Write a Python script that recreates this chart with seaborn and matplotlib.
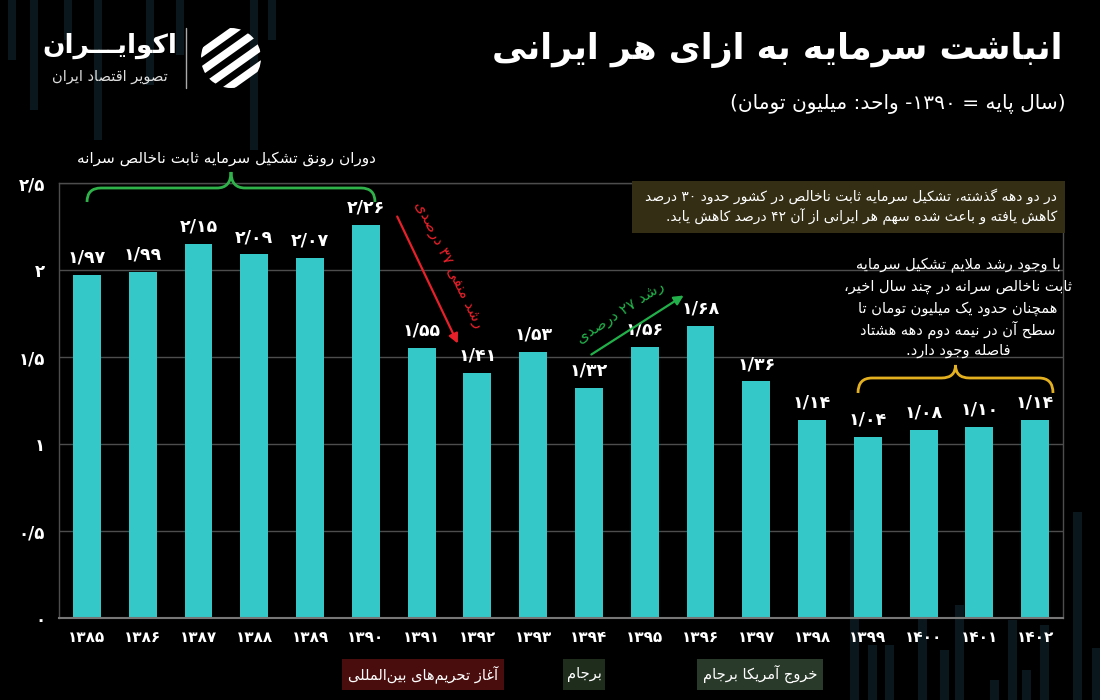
import re
import numpy as np
import pandas as pd
import matplotlib
matplotlib.use("Agg")
import matplotlib.pyplot as plt
import seaborn as sns
from matplotlib.path import Path
from matplotlib.patches import PathPatch, Rectangle, Circle

# ---------------- data ----------------
years = [1385, 1386, 1387, 1388, 1389, 1390, 1391, 1392, 1393,
         1394, 1395, 1396, 1397, 1398, 1399, 1400, 1401, 1402]
values = [1.97, 1.99, 2.15, 2.09, 2.07, 2.26, 1.55, 1.41, 1.53,
          1.32, 1.56, 1.68, 1.36, 1.14, 1.04, 1.08, 1.10, 1.14]
y_ticks = [0, 0.5, 1, 1.5, 2, 2.5]

title = "انباشت سرمایه به ازای هر ایرانی"
subtitle = "(سال پایه = ۱۳۹۰- واحد: میلیون تومان)"
brand = "اکوایـــران"
brand_sub = "تصویر اقتصاد ایران"
boom_text = "دوران رونق تشکیل سرمایه ثابت ناخالص سرانه"
down_text = "رشد منفی ۳۷ درصدی"
up_text = "رشد ۲۷ درصدی"
box_lines = ["در دو دهه گذشته، تشکیل سرمایه ثابت ناخالص در کشور حدود ۳۰ درصد",
             "کاهش یافته و باعث شده سهم هر ایرانی از آن ۴۲ درصد کاهش یابد."]
note_lines = ["با وجود رشد ملایم تشکیل سرمایه",
              "ثابت ناخالص سرانه در چند سال اخیر،",
              "همچنان حدود یک میلیون تومان تا",
              "سطح آن در نیمه دوم دهه هشتاد",
              "فاصله وجود دارد."]
events = ["آغاز تحریم‌های بین‌المللی", "برجام", "خروج آمریکا برجام"]

# ---------------- Persian shaping helpers ----------------
def _f(start, n):
    return tuple(chr(start + k) for k in range(n))

FORMS = {
    'ا': _f(0xFE8D, 2), 'آ': _f(0xFE81, 2), 'أ': _f(0xFE83, 2), 'إ': _f(0xFE87, 2),
    'ؤ': _f(0xFE85, 2), 'ئ': _f(0xFE89, 4), 'ب': _f(0xFE8F, 4), 'ة': _f(0xFE93, 2),
    'ت': _f(0xFE95, 4), 'ث': _f(0xFE99, 4), 'ج': _f(0xFE9D, 4), 'ح': _f(0xFEA1, 4),
    'خ': _f(0xFEA5, 4), 'د': _f(0xFEA9, 2), 'ذ': _f(0xFEAB, 2), 'ر': _f(0xFEAD, 2),
    'ز': _f(0xFEAF, 2), 'س': _f(0xFEB1, 4), 'ش': _f(0xFEB5, 4), 'ص': _f(0xFEB9, 4),
    'ض': _f(0xFEBD, 4), 'ط': _f(0xFEC1, 4), 'ظ': _f(0xFEC5, 4), 'ع': _f(0xFEC9, 4),
    'غ': _f(0xFECD, 4), 'ف': _f(0xFED1, 4), 'ق': _f(0xFED5, 4), 'ك': _f(0xFED9, 4),
    'ل': _f(0xFEDD, 4), 'م': _f(0xFEE1, 4), 'ن': _f(0xFEE5, 4), 'ه': _f(0xFEE9, 4),
    'و': _f(0xFEED, 2), 'ى': _f(0xFEEF, 2), 'ي': _f(0xFEF1, 4),
    'پ': _f(0xFB56, 4), 'چ': _f(0xFB7A, 4), 'ژ': _f(0xFB8A, 2), 'ک': _f(0xFB8E, 4),
    'گ': _f(0xFB92, 4), 'ی': _f(0xFBFC, 4),
}
LAMALEF = {'ا': ('\uFEFB', '\uFEFC'), 'آ': ('\uFEF5', '\uFEF6'),
           'أ': ('\uFEF7', '\uFEF8'), 'إ': ('\uFEF9', '\uFEFA')}
TATWEEL = '\u0640'


def _jn(c):  # can join to next letter
    return c == TATWEEL or (c in FORMS and len(FORMS[c]) == 4)


def _jp(c):  # can join to previous letter
    return c == TATWEEL or c in FORMS


def shape(s):
    out = []
    n = len(s)
    i = 0
    while i < n:
        c = s[i]
        prev = s[i - 1] if i > 0 else None
        nxt = s[i + 1] if i + 1 < n else None
        cp = prev is not None and _jn(prev) and _jp(c)
        if c == 'ل' and nxt in LAMALEF:
            out.append(LAMALEF[nxt][1] if cp else LAMALEF[nxt][0])
            i += 2
            continue
        if c == TATWEEL:
            out.append(c)
        elif c in FORMS:
            cn = nxt is not None and _jn(c) and _jp(nxt)
            f = FORMS[c]
            if cp and cn:
                out.append(f[3])
            elif cp:
                out.append(f[1])
            elif cn:
                out.append(f[2])
            else:
                out.append(f[0])
        elif c == '\u200c':
            pass
        else:
            out.append(c)
        i += 1
    return ''.join(out)


_DIGRUN = re.compile(r'[0-9\u06F0-\u06F9]+(?:[/.\u066B][0-9\u06F0-\u06F9]+)*')


def fa(s):
    rev = shape(s)[::-1].translate(str.maketrans('()[]', ')(]['))
    return _DIGRUN.sub(lambda m: m.group(0)[::-1], rev)


def pdig(s):
    return str(s).translate(str.maketrans('0123456789', '۰۱۲۳۴۵۶۷۸۹'))


def pnum(v, nd=2):
    txt = f"{v:.{nd}f}" if nd else f"{v:g}"
    return pdig(txt.replace('.', '/'))


# ---------------- style ----------------
BG = "#000000"
BAR = "#35c8c8"
GRID = "#4d4d4d"
DECO = "#0a171c"
sns.set_theme(style="dark", rc={"axes.facecolor": BG, "figure.facecolor": BG,
                                "axes.edgecolor": GRID, "text.color": "white"})
plt.rcParams['font.family'] = ['DejaVu Sans']

df = pd.DataFrame({"year": [pdig(y) for y in years], "value": values})

fig = plt.figure(figsize=(11, 7), dpi=100)
fig.patch.set_facecolor(BG)

# faint decorative background columns
deco = fig.add_axes([0, 0, 1, 1], zorder=0)
deco.set_xlim(0, 1100); deco.set_ylim(700, 0); deco.axis('off')
for x0, h in [(8, 60), (30, 110), (64, 40), (94, 140), (146, 85), (176, 55), (250, 150), (268, 40)]:
    deco.add_patch(Rectangle((x0, 0), 8, h, color=DECO, lw=0))
for x0, top in [(850, 510), (868, 645), (885, 645), (918, 585), (940, 650), (955, 605),
                (990, 680), (1008, 620), (1022, 670), (1040, 625), (1073, 512), (1092, 648)]:
    deco.add_patch(Rectangle((x0, top), 9, 700 - top, color=DECO, lw=0))

ax = fig.add_axes([59 / 1100, 82 / 700, 1004 / 1100, 435 / 700], zorder=2)
ax.set_facecolor((0, 0, 0, 0))
sns.barplot(data=df, x="year", y="value", color=BAR, saturation=1, width=0.5,
            linewidth=0, ax=ax)
ax.set_xlim(-0.5, len(years) - 0.5)
ax.set_ylim(0, 2.5)
ax.set_yticks(y_ticks)
ax.set_yticklabels([pnum(t, 0) if float(t).is_integer() else pnum(t, 1) for t in y_ticks])
ax.set_xlabel(""); ax.set_ylabel("")
ax.yaxis.grid(True, color=GRID, lw=1)
ax.xaxis.grid(False)
ax.set_axisbelow(True)
for sp in ax.spines.values():
    sp.set_color(GRID); sp.set_linewidth(1)
ax.spines['bottom'].set_color("#777777"); ax.spines['bottom'].set_linewidth(1.5)
ax.tick_params(axis='x', length=0, pad=9, labelsize=11, labelcolor="white")
ax.tick_params(axis='y', length=0, pad=10, labelsize=12, labelcolor="white")
for lab in ax.get_xticklabels() + ax.get_yticklabels():
    lab.set_fontweight('bold')
ax.bar_label(ax.containers[0], labels=[pnum(v) for v in values], padding=6,
             color="white", fontsize=12.5, fontweight='bold')

# ---------------- overlay (pixel coords) ----------------
ov = fig.add_axes([0, 0, 1, 1], zorder=5)
ov.set_xlim(0, 1100); ov.set_ylim(700, 0); ov.axis('off')
ov.patch.set_alpha(0)

ov.text(1062, 50, fa(title), ha='right', va='center', fontsize=25, fontweight='bold', color='white')
ov.text(1066, 104, fa(subtitle), ha='right', va='center', fontsize=14.5, color='white')

# logo
ov.text(110, 46, fa(brand), ha='center', va='center', fontsize=19, fontweight='bold', color='white')
ov.text(110, 77, fa(brand_sub), ha='center', va='center', fontsize=10.5, color='#dddddd')
ov.plot([186, 186], [28, 88], color='#aaaaaa', lw=1)
circ = Circle((231, 58), 30, transform=ov.transData, fill=False, lw=0)
ov.add_patch(circ)
for off in [-26, -8, 10, 28]:
    ln, = ov.plot([200, 262], [58 + off + 22, 58 + off - 22], color='white', lw=5.5,
                  solid_capstyle='round')
    ln.set_clip_path(circ)


def brace(x0, x1, ylow, ymid, ytop, color, r=14, lw=2):
    xm = (x0 + x1) / 2
    verts = [(x0, ylow), (x0, ymid), (x0 + r, ymid), (xm - r, ymid), (xm, ymid), (xm, ytop),
             (xm, ymid), (xm + r, ymid), (x1 - r, ymid), (x1, ymid), (x1, ylow)]
    codes = [Path.MOVETO, Path.CURVE3, Path.CURVE3, Path.LINETO, Path.CURVE3, Path.CURVE3,
             Path.CURVE3, Path.CURVE3, Path.LINETO, Path.CURVE3, Path.CURVE3]
    ov.add_patch(PathPatch(Path(verts, codes), fill=False, edgecolor=color, lw=lw))


brace(87, 375, 202, 188, 172, "#2fb24a")
ov.text(226, 158, fa(boom_text), ha='center', va='center', fontsize=11, color='white')

brace(858, 1053, 393, 378, 365, "#e3b020")

# arrows
ov.annotate('', xy=(459, 346), xytext=(396, 214),
            arrowprops=dict(arrowstyle='-|>', color='#e8202a', lw=1.6, mutation_scale=14))
ov.text(449, 264, fa(down_text), ha='center', va='center', rotation=-64, rotation_mode='anchor',
        fontsize=11, color='#e8202a')
ov.annotate('', xy=(686, 294), xytext=(589, 356),
            arrowprops=dict(arrowstyle='-|>', color='#22b04a', lw=1.6, mutation_scale=14))
ov.text(620, 312, fa(up_text), ha='center', va='center', rotation=33, rotation_mode='anchor',
        fontsize=11, color='#22b04a')

# info box
ov.add_patch(Rectangle((632, 181), 433, 52, color="#332e14", lw=0))
for k, line in enumerate(box_lines):
    ov.text(1057, 196 + k * 21, fa(line), ha='right', va='center', fontsize=10, color='white')

# note paragraph
for k, line in enumerate(note_lines):
    ov.text(958, 265 + k * 21.5, fa(line), ha='center', va='center', fontsize=10.5, color='white')

# event labels
for (label, cx, w, col) in [(events[0], 423, 162, "#4a0d0d"), (events[1], 584, 42, "#1f2d1c"),
                            (events[2], 760, 126, "#2a3a2a")]:
    ov.add_patch(Rectangle((cx - w / 2, 659), w, 31, color=col, lw=0))
    ov.text(cx, 674, fa(label), ha='center', va='center', fontsize=10.5, color='white')

fig.savefig("out.png", dpi=100, facecolor=BG)
